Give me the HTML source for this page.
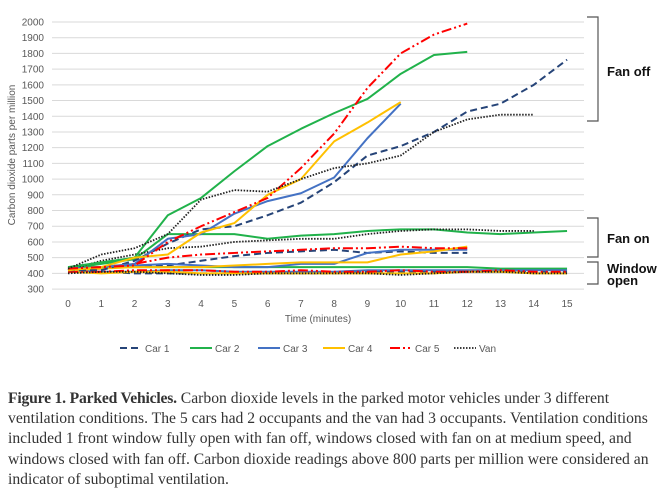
<!DOCTYPE html>
<html><head><meta charset="utf-8"><style>
body{margin:0;background:#fff;width:662px;height:492px;overflow:hidden;position:relative;font-family:"Liberation Sans",sans-serif}
#cap{position:absolute;left:8px;top:389px;width:700px;font-family:"Liberation Serif",serif;font-size:15.5px;line-height:20.2px;color:#333}
#cap div{white-space:nowrap;transform:scaleX(1.01);transform-origin:left center}
#cap b{letter-spacing:-0.2px}
</style></head><body>
<svg id="chart" width="662" height="380" style="position:absolute;left:0;top:0"></svg>
<div id="cap">
<div><b>Figure 1. Parked Vehicles.</b> Carbon dioxide levels in the parked motor vehicles under 3 different</div>
<div>ventilation conditions. The 5 cars had 2 occupants and the van had 3 occupants. Ventilation conditions</div>
<div>included 1 front window fully open with fan off, windows closed with fan on at medium speed, and</div>
<div>windows closed with fan off. Carbon dioxide readings above 800 parts per million were considered an</div>
<div>indicator of suboptimal ventilation.</div>
</div>
<script>
const xTicks=[0,1,2,3,4,5,6,7,8,9,10,11,12,13,14,15];
const yTicks=[300,400,500,600,700,800,900,1000,1100,1200,1300,1400,1500,1600,1700,1800,1900,2000];
const seriesNames=["Car 1","Car 2","Car 3","Car 4","Car 5","Van"];
// fan off
const car1Off=[420,420,480,590,680,700,770,850,980,1150,1210,1300,1430,1480,1600,1760];
const car2Off=[440,470,500,770,880,1050,1210,1320,1420,1510,1670,1790,1810];
const car3Off=[430,440,460,620,650,780,860,910,1010,1260,1480];
const car4Off=[420,440,500,520,660,720,900,1000,1240,1360,1490];
const car5Off=[430,440,450,600,700,790,880,1070,1290,1580,1800,1920,1990];
const vanOff=[430,520,560,650,870,930,920,1000,1070,1100,1150,1300,1380,1410,1410];
// fan on
const car1On=[420,440,450,450,480,510,530,540,550,530,540,530,530];
const car2On=[430,460,490,650,650,650,620,640,650,670,680,680,660,650,660,670];
const car3On=[420,430,450,460,450,440,440,460,460,530,550,550,550];
const car4On=[420,430,440,440,440,450,460,470,470,470,520,540,570];
const car5On=[430,440,460,500,520,530,540,550,560,560,570,560,560];
const vanOn=[420,480,520,560,570,600,610,620,620,650,670,680,680,670,670];
// window open
const car1Win=[410,410,400,400,400,400,400,400,400,410,410,410,410,410,410,410];
const car2Win=[440,440,440,440,440,440,440,440,440,440,440,440,440,430,430,430];
const car3Win=[420,410,410,420,420,410,410,410,410,420,420,420,420,420,420,420];
const car4Win=[410,400,410,410,400,400,400,400,400,400,400,400,410,410,400,400];
const car5Win=[410,410,420,420,420,410,410,420,410,410,420,410,410,420,410,410];
const vanWin=[400,410,410,400,390,390,400,400,400,400,390,400,410,410,400,400];

const NS="http://www.w3.org/2000/svg";
const svg=document.getElementById('chart');
const X=t=>68+t*33.27;
const Y=v=>22+(2000-v)*0.1571;
function mk(tag,attrs,parent){const e=document.createElementNS(NS,tag);for(const k in attrs)e.setAttribute(k,attrs[k]);(parent||svg).appendChild(e);return e;}
yTicks.forEach(v=>{
  const g=mk('line',{x1:52,x2:584,y1:Y(v),y2:Y(v),stroke:'#d9d9d9','stroke-width':1});
  
  
  const t=mk('text',{x:44,y:Y(v)+3.5,'text-anchor':'end','font-size':10,fill:'#595959'});
  t.textContent=v;
  
  
});
xTicks.forEach(v=>{
  const t=mk('text',{x:X(v),y:307,'text-anchor':'middle','font-size':10,fill:'#595959'});
  t.textContent=v;
  
  
});
const xt=mk('text',{x:318,y:322,'text-anchor':'middle','font-size':10,fill:'#595959'});
xt.textContent='Time (minutes)';


const yt=mk('text',{x:0,y:0,'text-anchor':'middle','font-size':10,fill:'#595959',transform:'translate(15,155) rotate(-90)'});
yt.textContent='Carbon dioxide parts per million';



const styles=[
 {c:'#264478',d:'7,4',w:2},
 {c:'#21b24b',d:'',w:2},
 {c:'#4472c4',d:'',w:2},
 {c:'#ffc000',d:'',w:2},
 {c:'#ff0000',d:'10,3,2,3,2,3',w:2},
 {c:'#222',d:'1.5,1.5',w:1.8}];
const groups=[[car1Win,car2Win,car3Win,car4Win,car5Win,vanWin],[car1On,car2On,car3On,car4On,car5On,vanOn],[car1Off,car2Off,car3Off,car4Off,car5Off,vanOff]];
groups.forEach(gr=>gr.forEach((arr,i)=>{
  const s=styles[i];
  const p=mk('polyline',{points:arr.map((v,t)=>X(t)+','+Y(v)).join(' '),fill:'none',stroke:s.c,'stroke-width':s.w,'stroke-dasharray':s.d,'stroke-linejoin':'round'});
  
  
}));
// legend
const lx=[120,190,258,323,390,454];
seriesNames.forEach((n,i)=>{
  const s=styles[i];
  const l=mk('line',{x1:lx[i],x2:lx[i]+22,y1:348,y2:348,stroke:s.c,'stroke-width':s.w,'stroke-dasharray':s.d});
  
  
  const t=mk('text',{x:lx[i]+25,y:352,'font-size':10,fill:'#595959'});
  t.textContent=n;
  
  
});
// brackets
[[17,121,'Fan off',[76]],[218,257,'Fan on',[243]],[262,284,'Window',[273,'open',285]]].forEach(b=>{
  const p=mk('polyline',{points:`587,${b[0]} 598,${b[0]} 598,${b[1]} 587,${b[1]}`,fill:'none',stroke:'#555','stroke-width':1.2});
  
  
  const t=mk('text',{x:607,y:b[3][0],'font-size':13,'font-weight':'bold',fill:'#111'});
  t.textContent=b[2];
  
  
  if(b[3][1]){const t2=mk('text',{x:607,y:b[3][2],'font-size':13,'font-weight':'bold',fill:'#111'});t2.textContent=b[3][1];
  
  }
});
</script>
</body></html>
